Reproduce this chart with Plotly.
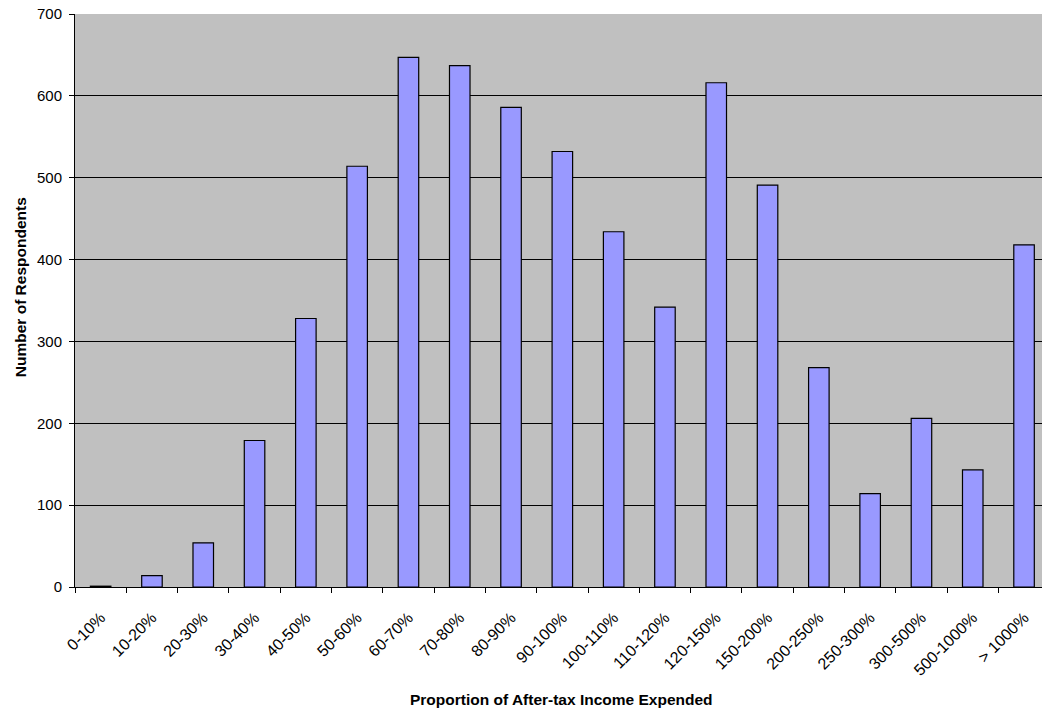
import plotly.graph_objects as go

# Spending brackets (share of after-tax income) and respondent counts
categories = ["0-10%", "10-20%", "20-30%", "30-40%", "40-50%", "50-60%", "60-70%",
              "70-80%", "80-90%", "90-100%", "100-110%", "110-120%", "120-150%",
              "150-200%", "200-250%", "250-300%", "300-500%", "500-1000%", "> 1000%"]
respondents = [1, 14, 54, 179, 328, 514, 647, 637, 586, 532, 434, 342, 616,
               491, 268, 114, 206, 143, 418]
y_ticks = [0, 100, 200, 300, 400, 500, 600, 700]

FONT = "Liberation Sans, Arial, sans-serif"

fig = go.Figure(
    go.Bar(
        x=categories,
        y=respondents,
        width=0.4,
        marker=dict(color="#9999FF", line=dict(color="#000000", width=1.2)),
        hoverinfo="x+y",
    )
)

fig.update_layout(
    width=1042,
    height=715,
    margin=dict(l=75, r=0, t=14, b=128),
    paper_bgcolor="white",
    plot_bgcolor="#C0C0C0",
    showlegend=False,
    font=dict(family=FONT, color="#000000", size=15),
    bargap=0.6,
)

fig.update_xaxes(
    type="category",
    range=[-0.5, 18.35],
    tickangle=-45,
    tickson="boundaries",
    ticks="outside",
    ticklen=5,
    tickcolor="#000000",
    ticklabelstandoff=14,
    showline=True,
    linecolor="#000000",
    linewidth=1,
    showgrid=False,
    tickfont=dict(size=16, family=FONT),
)

fig.update_yaxes(
    range=[0, 700],
    tickvals=y_ticks,
    ticks="outside",
    ticklen=5,
    tickcolor="#000000",
    ticklabelstandoff=4,
    showline=True,
    linecolor="#000000",
    linewidth=1,
    showgrid=True,
    gridcolor="#000000",
    gridwidth=1,
    zeroline=False,
    tickfont=dict(size=15, family=FONT),
)

fig.add_annotation(
    text="<b>Proportion of After-tax Income Expended</b>",
    xref="paper", yref="paper", x=0.503, y=-0.196,
    xanchor="center", yanchor="middle", showarrow=False,
    font=dict(size=15.5, family=FONT),
)
fig.add_annotation(
    text="<b>Number of Respondents</b>",
    xref="paper", yref="paper", x=-0.057, y=0.523,
    xanchor="center", yanchor="middle", textangle=-90, showarrow=False,
    font=dict(size=15.5, family=FONT),
)

fig.write_html("out.html")
